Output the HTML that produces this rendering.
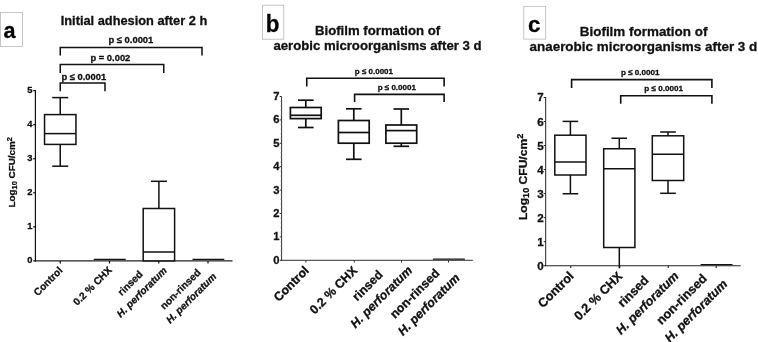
<!DOCTYPE html>
<html lang="en"><head><meta charset="utf-8"><title>Figure</title>
<style>
html,body{margin:0;padding:0;background:#fff;}
body{width:758px;height:342px;overflow:hidden;}
svg{display:block;font-family:"Liberation Sans", sans-serif;filter:blur(0.4px);}
text{stroke:#111;stroke-width:0.3px;stroke-linejoin:round;}
</style></head><body>
<svg width="758" height="342" viewBox="0 0 758 342">
<rect width="758" height="342" fill="#fff"/>
<rect x="0.5" y="12.5" width="22" height="34" fill="#fff" stroke="#b8b8b8" stroke-width="0.8"/>
<text transform="translate(9.6 38.4) scale(0.96 1)" font-size="22.5" font-weight="bold" text-anchor="middle" fill="#000">a</text>
<text x="134.0" y="25.3" font-size="12.8" font-weight="bold" text-anchor="middle" fill="#111">Initial adhesion after 2 h</text>
<path d="M60.25 55.5V47.4H202V55.5" fill="none" stroke="#111" stroke-width="1.5"/>
<text x="130.9" y="43.4" font-size="9.4" font-weight="bold" text-anchor="middle" fill="#111">p ≤ 0.0001</text>
<path d="M60.25 73V64.5H163.75V73" fill="none" stroke="#111" stroke-width="1.5"/>
<text x="110.4" y="61.4" font-size="9.4" font-weight="bold" text-anchor="middle" fill="#111">p = 0.002</text>
<path d="M60.25 91.3V83H105V91.3" fill="none" stroke="#111" stroke-width="1.5"/>
<text x="83.8" y="80.0" font-size="9.4" font-weight="bold" text-anchor="middle" fill="#111">p ≤ 0.0001</text>
<line x1="35.4" y1="90.0" x2="35.4" y2="261.5" stroke="#111" stroke-width="1.2" stroke-linecap="butt"/>
<line x1="34.8" y1="260.9" x2="232.5" y2="260.9" stroke="#222" stroke-width="1.1" stroke-linecap="butt"/>
<line x1="33.199999999999996" y1="260.9" x2="35.4" y2="260.9" stroke="#111" stroke-width="1.2" stroke-linecap="butt"/>
<text x="32.4" y="263.29999999999995" font-size="9.4" font-weight="bold" text-anchor="end" fill="#111">0</text>
<line x1="33.199999999999996" y1="226.83999999999997" x2="35.4" y2="226.83999999999997" stroke="#111" stroke-width="1.2" stroke-linecap="butt"/>
<text x="32.4" y="229.23999999999998" font-size="9.4" font-weight="bold" text-anchor="end" fill="#111">1</text>
<line x1="33.199999999999996" y1="192.77999999999997" x2="35.4" y2="192.77999999999997" stroke="#111" stroke-width="1.2" stroke-linecap="butt"/>
<text x="32.4" y="195.17999999999998" font-size="9.4" font-weight="bold" text-anchor="end" fill="#111">2</text>
<line x1="33.199999999999996" y1="158.71999999999997" x2="35.4" y2="158.71999999999997" stroke="#111" stroke-width="1.2" stroke-linecap="butt"/>
<text x="32.4" y="161.11999999999998" font-size="9.4" font-weight="bold" text-anchor="end" fill="#111">3</text>
<line x1="33.199999999999996" y1="124.65999999999997" x2="35.4" y2="124.65999999999997" stroke="#111" stroke-width="1.2" stroke-linecap="butt"/>
<text x="32.4" y="127.05999999999997" font-size="9.4" font-weight="bold" text-anchor="end" fill="#111">4</text>
<line x1="33.199999999999996" y1="90.59999999999997" x2="35.4" y2="90.59999999999997" stroke="#111" stroke-width="1.2" stroke-linecap="butt"/>
<text x="32.4" y="92.99999999999997" font-size="9.4" font-weight="bold" text-anchor="end" fill="#111">5</text>
<line x1="60.25" y1="260.9" x2="60.25" y2="263.5" stroke="#111" stroke-width="1.2" stroke-linecap="butt"/>
<line x1="109.5" y1="260.9" x2="109.5" y2="263.5" stroke="#111" stroke-width="1.2" stroke-linecap="butt"/>
<line x1="158.75" y1="260.9" x2="158.75" y2="263.5" stroke="#111" stroke-width="1.2" stroke-linecap="butt"/>
<line x1="208" y1="260.9" x2="208" y2="263.5" stroke="#111" stroke-width="1.2" stroke-linecap="butt"/>
<text font-size="9.9" font-weight="bold" text-anchor="middle" fill="#111" transform="translate(15.3 172.3) rotate(-90) scale(1.0 1)">Log<tspan font-size="7.43" dy="1.78">10</tspan><tspan dy="-1.78"> CFU/cm</tspan><tspan font-size="7.43" dy="-3.76">2</tspan></text>
<line x1="60.25" y1="97.6" x2="60.25" y2="114.6" stroke="#111" stroke-width="1.5" stroke-linecap="butt"/>
<line x1="52.25" y1="97.6" x2="68.25" y2="97.6" stroke="#111" stroke-width="1.5" stroke-linecap="butt"/>
<line x1="60.25" y1="144.4" x2="60.25" y2="166.2" stroke="#111" stroke-width="1.5" stroke-linecap="butt"/>
<line x1="52.25" y1="166.2" x2="68.25" y2="166.2" stroke="#111" stroke-width="1.5" stroke-linecap="butt"/>
<rect x="44.55" y="114.6" width="31.4" height="29.80000000000001" fill="#fff" stroke="#111" stroke-width="1.5"/>
<line x1="44.55" y1="133.6" x2="75.95" y2="133.6" stroke="#111" stroke-width="1.5" stroke-linecap="butt"/>
<line x1="93.75" y1="259.3" x2="125.75" y2="259.3" stroke="#111" stroke-width="1.3" stroke-linecap="butt"/>
<line x1="158.9" y1="181.3" x2="158.9" y2="208.5" stroke="#111" stroke-width="1.5" stroke-linecap="butt"/>
<line x1="150.9" y1="181.3" x2="166.9" y2="181.3" stroke="#111" stroke-width="1.5" stroke-linecap="butt"/>
<rect x="143.20000000000002" y="208.5" width="31.4" height="52.39999999999998" fill="#fff" stroke="#111" stroke-width="1.5"/>
<line x1="143.20000000000002" y1="252" x2="174.6" y2="252" stroke="#111" stroke-width="1.5" stroke-linecap="butt"/>
<line x1="192.5" y1="259.3" x2="224.25" y2="259.3" stroke="#111" stroke-width="1.3" stroke-linecap="butt"/>
<text x="63.2" y="271.1" font-size="10.1" font-weight="bold" text-anchor="end" fill="#111" transform="rotate(-45 63.2 271.1)">Control</text>
<text x="112.5" y="270.8" font-size="10.1" font-weight="bold" text-anchor="end" fill="#111" transform="rotate(-45 112.5 270.8)">0.2 % CHX</text>
<text x="143.3" y="274.8" font-size="10.1" font-weight="bold" text-anchor="end" fill="#111" transform="rotate(-45 143.3 274.8)">rinsed</text>
<text x="167.55" y="271.1" font-size="10.1" font-weight="bold" text-anchor="end" fill="#111" font-style="italic" transform="rotate(-45 167.55 271.1)">H. perforatum</text>
<text x="201.25" y="273.2" font-size="10.1" font-weight="bold" text-anchor="end" fill="#111" transform="rotate(-45 201.25 273.2)">non-rinsed</text>
<text x="217" y="277.1" font-size="10.1" font-weight="bold" text-anchor="end" fill="#111" font-style="italic" transform="rotate(-45 217 277.1)">H. perforatum</text>
<rect x="262.5" y="5.2" width="21.3" height="34" fill="#fff" stroke="#b8b8b8" stroke-width="0.8"/>
<text transform="translate(272.7 31.8) scale(0.94 1)" font-size="23.8" font-weight="bold" text-anchor="middle" fill="#000">b</text>
<text x="377.6" y="35.2" font-size="13.2" font-weight="bold" text-anchor="middle" fill="#111">Biofilm formation of</text>
<text x="377.5" y="50.2" font-size="13.2" font-weight="bold" text-anchor="middle" fill="#111">aerobic microorganisms after 3 d</text>
<path d="M306.75 86.4V78.3H444.1V86.4" fill="none" stroke="#111" stroke-width="1.6"/>
<text x="373.9" y="73.8" font-size="8.0" font-weight="bold" text-anchor="middle" fill="#111">p ≤ 0.0001</text>
<path d="M354.6 102V94.4H444.1V102" fill="none" stroke="#111" stroke-width="1.6"/>
<text x="396.8" y="89.8" font-size="8.0" font-weight="bold" text-anchor="middle" fill="#111">p ≤ 0.0001</text>
<line x1="281.6" y1="96.5" x2="281.6" y2="260.8" stroke="#333" stroke-width="1.0" stroke-linecap="butt"/>
<line x1="281.1" y1="260.3" x2="472.8" y2="260.3" stroke="#333" stroke-width="1.0" stroke-linecap="butt"/>
<line x1="279.70000000000005" y1="260.3" x2="281.6" y2="260.3" stroke="#333" stroke-width="1.0" stroke-linecap="butt"/>
<text x="279.40000000000003" y="263.7" font-size="11.2" font-weight="bold" text-anchor="end" fill="#111">0</text>
<line x1="280.3" y1="255.62" x2="281.6" y2="255.62" stroke="#888" stroke-width="0.6" stroke-linecap="butt"/>
<line x1="280.3" y1="250.94" x2="281.6" y2="250.94" stroke="#888" stroke-width="0.6" stroke-linecap="butt"/>
<line x1="280.3" y1="246.26000000000002" x2="281.6" y2="246.26000000000002" stroke="#888" stroke-width="0.6" stroke-linecap="butt"/>
<line x1="280.3" y1="241.58" x2="281.6" y2="241.58" stroke="#888" stroke-width="0.6" stroke-linecap="butt"/>
<line x1="279.70000000000005" y1="236.9" x2="281.6" y2="236.9" stroke="#333" stroke-width="1.0" stroke-linecap="butt"/>
<text x="279.40000000000003" y="240.3" font-size="11.2" font-weight="bold" text-anchor="end" fill="#111">1</text>
<line x1="280.3" y1="232.22" x2="281.6" y2="232.22" stroke="#888" stroke-width="0.6" stroke-linecap="butt"/>
<line x1="280.3" y1="227.54000000000002" x2="281.6" y2="227.54000000000002" stroke="#888" stroke-width="0.6" stroke-linecap="butt"/>
<line x1="280.3" y1="222.86" x2="281.6" y2="222.86" stroke="#888" stroke-width="0.6" stroke-linecap="butt"/>
<line x1="280.3" y1="218.18" x2="281.6" y2="218.18" stroke="#888" stroke-width="0.6" stroke-linecap="butt"/>
<line x1="279.70000000000005" y1="213.5" x2="281.6" y2="213.5" stroke="#333" stroke-width="1.0" stroke-linecap="butt"/>
<text x="279.40000000000003" y="216.9" font-size="11.2" font-weight="bold" text-anchor="end" fill="#111">2</text>
<line x1="280.3" y1="208.82" x2="281.6" y2="208.82" stroke="#888" stroke-width="0.6" stroke-linecap="butt"/>
<line x1="280.3" y1="204.14" x2="281.6" y2="204.14" stroke="#888" stroke-width="0.6" stroke-linecap="butt"/>
<line x1="280.3" y1="199.46" x2="281.6" y2="199.46" stroke="#888" stroke-width="0.6" stroke-linecap="butt"/>
<line x1="280.3" y1="194.78" x2="281.6" y2="194.78" stroke="#888" stroke-width="0.6" stroke-linecap="butt"/>
<line x1="279.70000000000005" y1="190.10000000000002" x2="281.6" y2="190.10000000000002" stroke="#333" stroke-width="1.0" stroke-linecap="butt"/>
<text x="279.40000000000003" y="193.50000000000003" font-size="11.2" font-weight="bold" text-anchor="end" fill="#111">3</text>
<line x1="280.3" y1="185.42000000000002" x2="281.6" y2="185.42000000000002" stroke="#888" stroke-width="0.6" stroke-linecap="butt"/>
<line x1="280.3" y1="180.74" x2="281.6" y2="180.74" stroke="#888" stroke-width="0.6" stroke-linecap="butt"/>
<line x1="280.3" y1="176.06000000000003" x2="281.6" y2="176.06000000000003" stroke="#888" stroke-width="0.6" stroke-linecap="butt"/>
<line x1="280.3" y1="171.38000000000002" x2="281.6" y2="171.38000000000002" stroke="#888" stroke-width="0.6" stroke-linecap="butt"/>
<line x1="279.70000000000005" y1="166.70000000000002" x2="281.6" y2="166.70000000000002" stroke="#333" stroke-width="1.0" stroke-linecap="butt"/>
<text x="279.40000000000003" y="170.10000000000002" font-size="11.2" font-weight="bold" text-anchor="end" fill="#111">4</text>
<line x1="280.3" y1="162.02" x2="281.6" y2="162.02" stroke="#888" stroke-width="0.6" stroke-linecap="butt"/>
<line x1="280.3" y1="157.34000000000003" x2="281.6" y2="157.34000000000003" stroke="#888" stroke-width="0.6" stroke-linecap="butt"/>
<line x1="280.3" y1="152.66000000000003" x2="281.6" y2="152.66000000000003" stroke="#888" stroke-width="0.6" stroke-linecap="butt"/>
<line x1="280.3" y1="147.98000000000002" x2="281.6" y2="147.98000000000002" stroke="#888" stroke-width="0.6" stroke-linecap="butt"/>
<line x1="279.70000000000005" y1="143.3" x2="281.6" y2="143.3" stroke="#333" stroke-width="1.0" stroke-linecap="butt"/>
<text x="279.40000000000003" y="146.70000000000002" font-size="11.2" font-weight="bold" text-anchor="end" fill="#111">5</text>
<line x1="280.3" y1="138.62" x2="281.6" y2="138.62" stroke="#888" stroke-width="0.6" stroke-linecap="butt"/>
<line x1="280.3" y1="133.94" x2="281.6" y2="133.94" stroke="#888" stroke-width="0.6" stroke-linecap="butt"/>
<line x1="280.3" y1="129.26000000000002" x2="281.6" y2="129.26000000000002" stroke="#888" stroke-width="0.6" stroke-linecap="butt"/>
<line x1="280.3" y1="124.58000000000001" x2="281.6" y2="124.58000000000001" stroke="#888" stroke-width="0.6" stroke-linecap="butt"/>
<line x1="279.70000000000005" y1="119.90000000000003" x2="281.6" y2="119.90000000000003" stroke="#333" stroke-width="1.0" stroke-linecap="butt"/>
<text x="279.40000000000003" y="123.30000000000004" font-size="11.2" font-weight="bold" text-anchor="end" fill="#111">6</text>
<line x1="280.3" y1="115.22000000000003" x2="281.6" y2="115.22000000000003" stroke="#888" stroke-width="0.6" stroke-linecap="butt"/>
<line x1="280.3" y1="110.54000000000003" x2="281.6" y2="110.54000000000003" stroke="#888" stroke-width="0.6" stroke-linecap="butt"/>
<line x1="280.3" y1="105.86000000000004" x2="281.6" y2="105.86000000000004" stroke="#888" stroke-width="0.6" stroke-linecap="butt"/>
<line x1="280.3" y1="101.18000000000004" x2="281.6" y2="101.18000000000004" stroke="#888" stroke-width="0.6" stroke-linecap="butt"/>
<line x1="279.70000000000005" y1="96.50000000000003" x2="281.6" y2="96.50000000000003" stroke="#333" stroke-width="1.0" stroke-linecap="butt"/>
<text x="279.40000000000003" y="99.90000000000003" font-size="11.2" font-weight="bold" text-anchor="end" fill="#111">7</text>
<line x1="305.9" y1="260.3" x2="305.9" y2="262.5" stroke="#333" stroke-width="1.0" stroke-linecap="butt"/>
<line x1="354.25" y1="260.3" x2="354.25" y2="262.5" stroke="#333" stroke-width="1.0" stroke-linecap="butt"/>
<line x1="401.5" y1="260.3" x2="401.5" y2="262.5" stroke="#333" stroke-width="1.0" stroke-linecap="butt"/>
<line x1="448.5" y1="260.3" x2="448.5" y2="262.5" stroke="#333" stroke-width="1.0" stroke-linecap="butt"/>
<line x1="305.8" y1="100.2" x2="305.8" y2="107.5" stroke="#111" stroke-width="1.7" stroke-linecap="butt"/>
<line x1="298.0" y1="100.2" x2="313.6" y2="100.2" stroke="#111" stroke-width="1.7" stroke-linecap="butt"/>
<line x1="305.8" y1="118.6" x2="305.8" y2="127.5" stroke="#111" stroke-width="1.7" stroke-linecap="butt"/>
<line x1="298.0" y1="127.5" x2="313.6" y2="127.5" stroke="#111" stroke-width="1.7" stroke-linecap="butt"/>
<rect x="290.40000000000003" y="107.5" width="30.8" height="11.099999999999994" fill="#fff" stroke="#111" stroke-width="1.7"/>
<line x1="290.40000000000003" y1="115.3" x2="321.2" y2="115.3" stroke="#111" stroke-width="1.7" stroke-linecap="butt"/>
<line x1="353.8" y1="108.8" x2="353.8" y2="120.5" stroke="#111" stroke-width="1.7" stroke-linecap="butt"/>
<line x1="346.0" y1="108.8" x2="361.6" y2="108.8" stroke="#111" stroke-width="1.7" stroke-linecap="butt"/>
<line x1="353.8" y1="143.2" x2="353.8" y2="159.3" stroke="#111" stroke-width="1.7" stroke-linecap="butt"/>
<line x1="346.0" y1="159.3" x2="361.6" y2="159.3" stroke="#111" stroke-width="1.7" stroke-linecap="butt"/>
<rect x="338.40000000000003" y="120.5" width="30.8" height="22.69999999999999" fill="#fff" stroke="#111" stroke-width="1.7"/>
<line x1="338.40000000000003" y1="132.5" x2="369.2" y2="132.5" stroke="#111" stroke-width="1.7" stroke-linecap="butt"/>
<line x1="401.3" y1="109" x2="401.3" y2="125" stroke="#111" stroke-width="1.7" stroke-linecap="butt"/>
<line x1="393.5" y1="109" x2="409.1" y2="109" stroke="#111" stroke-width="1.7" stroke-linecap="butt"/>
<line x1="401.3" y1="143.2" x2="401.3" y2="146.3" stroke="#111" stroke-width="1.7" stroke-linecap="butt"/>
<line x1="393.5" y1="146.3" x2="409.1" y2="146.3" stroke="#111" stroke-width="1.7" stroke-linecap="butt"/>
<rect x="385.90000000000003" y="125" width="30.8" height="18.19999999999999" fill="#fff" stroke="#111" stroke-width="1.7"/>
<line x1="385.90000000000003" y1="130.6" x2="416.7" y2="130.6" stroke="#111" stroke-width="1.7" stroke-linecap="butt"/>
<line x1="432.9" y1="259.1" x2="464.9" y2="259.1" stroke="#111" stroke-width="1.3" stroke-linecap="butt"/>
<text x="309.8" y="271.2" font-size="12.4" font-weight="bold" text-anchor="end" fill="#111" transform="rotate(-45 309.8 271.2)">Control</text>
<text x="358" y="271.35" font-size="12.4" font-weight="bold" text-anchor="end" fill="#111" transform="rotate(-45 358 271.35)">0.2 % CHX</text>
<text x="383.6" y="275.3" font-size="12.4" font-weight="bold" text-anchor="end" fill="#111" transform="rotate(-45 383.6 275.3)">rinsed</text>
<text x="413" y="271.2" font-size="12.4" font-weight="bold" text-anchor="end" fill="#111" font-style="italic" transform="rotate(-45 413 271.2)">H. perforatum</text>
<text x="440.3" y="273.85" font-size="12.4" font-weight="bold" text-anchor="end" fill="#111" transform="rotate(-45 440.3 273.85)">non-rinsed</text>
<text x="460.5" y="278.7" font-size="12.4" font-weight="bold" text-anchor="end" fill="#111" font-style="italic" transform="rotate(-45 460.5 278.7)">H. perforatum</text>
<rect x="523.8" y="6.3" width="21.9" height="32.8" fill="#fff" stroke="#b8b8b8" stroke-width="0.8"/>
<text transform="translate(534.3 31.6) scale(0.97 1)" font-size="23" font-weight="bold" text-anchor="middle" fill="#000">c</text>
<text x="643.6" y="35.9" font-size="13.45" font-weight="bold" text-anchor="middle" fill="#111">Biofilm formation of</text>
<text x="643.4" y="50.9" font-size="13.45" font-weight="bold" text-anchor="middle" fill="#111">anaerobic microorganisms after 3 d</text>
<path d="M571.6 88V79.6H711.9V88" fill="none" stroke="#111" stroke-width="1.6"/>
<text x="640.3" y="75.2" font-size="8.1" font-weight="bold" text-anchor="middle" fill="#111">p ≤ 0.0001</text>
<path d="M620.7 103.75V95.8H711.9V103.75" fill="none" stroke="#111" stroke-width="1.6"/>
<text x="663.6" y="91.3" font-size="8.1" font-weight="bold" text-anchor="middle" fill="#111">p ≤ 0.0001</text>
<line x1="545.7" y1="97.0" x2="545.7" y2="266.2" stroke="#222" stroke-width="1.0" stroke-linecap="butt"/>
<line x1="545.2" y1="265.7" x2="740.7" y2="265.7" stroke="#222" stroke-width="1.1" stroke-linecap="butt"/>
<line x1="543.7" y1="265.7" x2="545.7" y2="265.7" stroke="#222" stroke-width="1.0" stroke-linecap="butt"/>
<text x="543.7" y="269.7" font-size="11.6" font-weight="bold" text-anchor="end" fill="#111">0</text>
<line x1="543.7" y1="241.67" x2="545.7" y2="241.67" stroke="#222" stroke-width="1.0" stroke-linecap="butt"/>
<text x="543.7" y="245.67" font-size="11.6" font-weight="bold" text-anchor="end" fill="#111">1</text>
<line x1="543.7" y1="217.64" x2="545.7" y2="217.64" stroke="#222" stroke-width="1.0" stroke-linecap="butt"/>
<text x="543.7" y="221.64" font-size="11.6" font-weight="bold" text-anchor="end" fill="#111">2</text>
<line x1="543.7" y1="193.60999999999999" x2="545.7" y2="193.60999999999999" stroke="#222" stroke-width="1.0" stroke-linecap="butt"/>
<text x="543.7" y="197.60999999999999" font-size="11.6" font-weight="bold" text-anchor="end" fill="#111">3</text>
<line x1="543.7" y1="169.57999999999998" x2="545.7" y2="169.57999999999998" stroke="#222" stroke-width="1.0" stroke-linecap="butt"/>
<text x="543.7" y="173.57999999999998" font-size="11.6" font-weight="bold" text-anchor="end" fill="#111">4</text>
<line x1="543.7" y1="145.54999999999998" x2="545.7" y2="145.54999999999998" stroke="#222" stroke-width="1.0" stroke-linecap="butt"/>
<text x="543.7" y="149.54999999999998" font-size="11.6" font-weight="bold" text-anchor="end" fill="#111">5</text>
<line x1="543.7" y1="121.51999999999998" x2="545.7" y2="121.51999999999998" stroke="#222" stroke-width="1.0" stroke-linecap="butt"/>
<text x="543.7" y="125.51999999999998" font-size="11.6" font-weight="bold" text-anchor="end" fill="#111">6</text>
<line x1="543.7" y1="97.48999999999998" x2="545.7" y2="97.48999999999998" stroke="#222" stroke-width="1.0" stroke-linecap="butt"/>
<text x="543.7" y="101.48999999999998" font-size="11.6" font-weight="bold" text-anchor="end" fill="#111">7</text>
<line x1="570.75" y1="265.7" x2="570.75" y2="268.09999999999997" stroke="#222" stroke-width="1.1" stroke-linecap="butt"/>
<line x1="619.75" y1="265.7" x2="619.75" y2="268.09999999999997" stroke="#222" stroke-width="1.1" stroke-linecap="butt"/>
<line x1="668.25" y1="265.7" x2="668.25" y2="268.09999999999997" stroke="#222" stroke-width="1.1" stroke-linecap="butt"/>
<line x1="716.2" y1="265.7" x2="716.2" y2="268.09999999999997" stroke="#222" stroke-width="1.1" stroke-linecap="butt"/>
<text font-size="11.3" font-weight="bold" text-anchor="middle" fill="#111" transform="translate(527.0 176.9) rotate(-90) scale(1.07 1)">Log<tspan font-size="8.48" dy="2.03">10</tspan><tspan dy="-2.03"> CFU/cm</tspan><tspan font-size="8.48" dy="-4.29">2</tspan></text>
<line x1="570.4" y1="121.4" x2="570.4" y2="135.2" stroke="#111" stroke-width="1.5" stroke-linecap="butt"/>
<line x1="562.6" y1="121.4" x2="578.1999999999999" y2="121.4" stroke="#111" stroke-width="1.5" stroke-linecap="butt"/>
<line x1="570.4" y1="175" x2="570.4" y2="193.75" stroke="#111" stroke-width="1.5" stroke-linecap="butt"/>
<line x1="562.6" y1="193.75" x2="578.1999999999999" y2="193.75" stroke="#111" stroke-width="1.5" stroke-linecap="butt"/>
<rect x="554.8" y="135.2" width="31.2" height="39.80000000000001" fill="#fff" stroke="#111" stroke-width="1.5"/>
<line x1="554.8" y1="162" x2="586.0" y2="162" stroke="#111" stroke-width="1.5" stroke-linecap="butt"/>
<line x1="619.3" y1="138.25" x2="619.3" y2="148.75" stroke="#111" stroke-width="1.5" stroke-linecap="butt"/>
<line x1="611.5" y1="138.25" x2="627.0999999999999" y2="138.25" stroke="#111" stroke-width="1.5" stroke-linecap="butt"/>
<rect x="603.6999999999999" y="148.75" width="31.2" height="98.75" fill="#fff" stroke="#111" stroke-width="1.5"/>
<line x1="603.6999999999999" y1="168.75" x2="634.9" y2="168.75" stroke="#111" stroke-width="1.5" stroke-linecap="butt"/>
<line x1="619.3" y1="247.5" x2="619.3" y2="268.3" stroke="#111" stroke-width="1.5" stroke-linecap="butt"/>
<line x1="668.0" y1="132" x2="668.0" y2="135.8" stroke="#111" stroke-width="1.5" stroke-linecap="butt"/>
<line x1="660.2" y1="132" x2="675.8" y2="132" stroke="#111" stroke-width="1.5" stroke-linecap="butt"/>
<line x1="668.0" y1="180.5" x2="668.0" y2="193.3" stroke="#111" stroke-width="1.5" stroke-linecap="butt"/>
<line x1="660.2" y1="193.3" x2="675.8" y2="193.3" stroke="#111" stroke-width="1.5" stroke-linecap="butt"/>
<rect x="652.3" y="135.8" width="31.4" height="44.69999999999999" fill="#fff" stroke="#111" stroke-width="1.5"/>
<line x1="652.3" y1="154.25" x2="683.7" y2="154.25" stroke="#111" stroke-width="1.5" stroke-linecap="butt"/>
<line x1="700.6" y1="264.6" x2="732.5" y2="264.6" stroke="#111" stroke-width="1.3" stroke-linecap="butt"/>
<text x="574.6" y="276.8" font-size="12.6" font-weight="bold" text-anchor="end" fill="#111" transform="rotate(-45 574.6 276.8)">Control</text>
<text x="623.25" y="276.95" font-size="12.6" font-weight="bold" text-anchor="end" fill="#111" transform="rotate(-45 623.25 276.95)">0.2 % CHX</text>
<text x="649.5" y="281.1" font-size="12.6" font-weight="bold" text-anchor="end" fill="#111" transform="rotate(-45 649.5 281.1)">rinsed</text>
<text x="679.5" y="276.75" font-size="12.6" font-weight="bold" text-anchor="end" fill="#111" font-style="italic" transform="rotate(-45 679.5 276.75)">H. perforatum</text>
<text x="707.6" y="279.3" font-size="12.6" font-weight="bold" text-anchor="end" fill="#111" transform="rotate(-45 707.6 279.3)">non-rinsed</text>
<text x="728.2" y="284.7" font-size="12.6" font-weight="bold" text-anchor="end" fill="#111" font-style="italic" transform="rotate(-45 728.2 284.7)">H. perforatum</text>
</svg>
</body></html>
